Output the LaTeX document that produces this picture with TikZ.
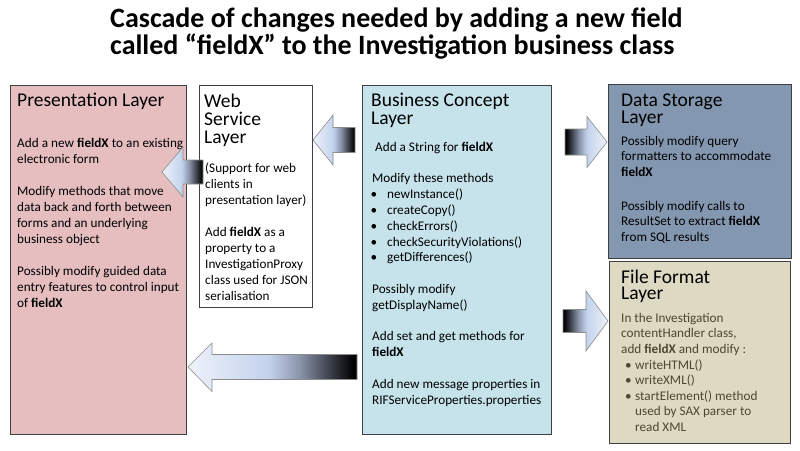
\documentclass[tikz,border=0pt]{standalone}
\usepackage{fontspec}
\setmainfont{Carlito}
\definecolor{presfill}{HTML}{E6BEBF}
\definecolor{busfill}{HTML}{C6E2EB}
\definecolor{datafill}{HTML}{8497B0}
\definecolor{filefill}{HTML}{DDD9C3}
\definecolor{filetext}{HTML}{4B4733}
\definecolor{boxline}{HTML}{404040}
\definecolor{arline}{HTML}{8C8C8C}
\definecolor{artip}{HTML}{EEF2FA}
\definecolor{armid}{HTML}{C3D2EC}
\definecolor{argray}{HTML}{8A94AA}
\definecolor{ardark}{HTML}{33363F}
\pgfdeclarehorizontalshading{blockarrow}{100bp}{color(0bp)=(artip); color(25bp)=(artip); color(49bp)=(armid); color(58bp)=(argray); color(68bp)=(ardark); color(74bp)=(black); color(100bp)=(black)}
\newcommand\bulA{\hspace*{-1.5pt}\makebox[16.5pt][l]{•}}
\newcommand\bulB{\hspace*{4pt}\makebox[10pt][l]{•}}
\newcommand\strBody{\rule{0pt}{12pt}}
\newcommand\strHead{\rule{0pt}{18pt}}
\newcommand\strBig{\rule{0pt}{24pt}}
\begin{document}
\begin{tikzpicture}[x=1pt,y=-1pt,
  layerbox/.style={draw=boxline, line width=1.1pt, inner sep=0pt, anchor=north west},
  boxtitle/.style={inner sep=0pt, anchor=north west, yshift=18pt, align=left, font=\fontsize{19.5}{18}\selectfont},
  bodytext/.style={inner sep=0pt, anchor=north west, yshift=12pt, align=left, font=\fontsize{13.2}{16}\selectfont},
  blockarr/.style={draw=arline, line width=0.6pt, shading=blockarrow}
]
\useasboundingbox (0,0) rectangle (800,450);
\fill[white] (0,0) rectangle (800,450);

% title
\node[inner sep=0pt, anchor=north west, yshift=24pt, align=left, font=\fontsize{28}{27.5}\selectfont\bfseries] (title) at (110,27)
  {\strBig Cascade of changes needed by adding a new field\\called “fieldX” to the Investigation business class};

% boxes
\node[layerbox, fill=presfill, minimum width=176pt, minimum height=349pt] (pres) at (10,85) {};
\node[layerbox, fill=white, minimum width=113pt, minimum height=222pt] (web) at (199,85) {};
\node[layerbox, fill=busfill, minimum width=189pt, minimum height=349pt] (bus) at (362,85) {};
\node[layerbox, fill=datafill, minimum width=183pt, minimum height=174pt] (data) at (608,84) {};
\node[layerbox, fill=filefill, minimum width=181pt, minimum height=182pt] (file) at (609,261) {};

% presentation layer
\node[boxtitle] (prestitle) at (17,106) {\strHead Presentation Layer};
\node[bodytext] (presbody) at (17,147) {\strBody\makebox[166pt][s]{Add a new \textbf{fieldX} to an existing}\\
electronic form\\[16pt]
Modify methods that move\\
data back and forth between\\
forms and an underlying\\
business object\\[16pt]
Possibly modify guided data\\
entry features to control input\\
of \textbf{fieldX}};

% web service layer
\node[boxtitle] (webtitle) at (204,107) {\strHead Web\\Service\\Layer};
\node[bodytext] (webbody) at (205,172.5) {\strBody (Support for web\\
clients in\\
presentation layer)\\[16pt]
Add \textbf{fieldX} as a\\
property to a\\
InvestigationProxy\\
class used for JSON\\
serialisation};

% business concept layer
\node[boxtitle] (bustitle) at (371,106) {\strHead Business Concept\\Layer};
\node[bodytext, font=\fontsize{13.2}{15.8}\selectfont] (busbody) at (372,151) {\strBody\hspace*{3pt}Add a String for \textbf{fieldX}\\[15.8pt]
Modify these methods\\
\bulA newInstance()\\
\bulA createCopy()\\
\bulA checkErrors()\\
\bulA checkSecurityViolations()\\
\bulA getDifferences()\\[15.8pt]
Possibly modify\\
getDisplayName()\\[15.8pt]
Add set and get methods for\\
\textbf{fieldX}\\[15.8pt]
Add new message properties in\\
RIFServiceProperties.properties};

% data storage layer
\node[boxtitle, font=\fontsize{19.5}{17}\selectfont] (datatitle) at (621,106) {\strHead Data Storage\\Layer};
\node[bodytext, font=\fontsize{13.2}{15.5}\selectfont] (databody) at (621,145) {\strBody Possibly modify query\\
formatters to accommodate\\
\textbf{fieldX}\\[18.5pt]
Possibly modify calls to\\
ResultSet to extract \textbf{fieldX}\\
from SQL results};

% file format layer
\node[boxtitle, font=\fontsize{19.5}{16}\selectfont] (filetitle) at (621,283) {\strHead File Format\\Layer};
\node[bodytext, text=filetext, font=\fontsize{13.2}{15.6}\selectfont] (filebody) at (621,322) {\strBody In the Investigation\\
contentHandler class,\\
add \textbf{fieldX} and modify :\\
\bulB writeHTML()\\
\bulB writeXML()\\
\bulB startElement() method\\
\hspace*{14pt}used by SAX parser to\\
\hspace*{14pt}read XML};

% block arrows
\path[blockarr] (162,172) -- (183,147) -- (183,160) -- (203,160) -- (203,184) -- (183,184) -- (183,197) -- cycle;
\path[blockarr] (313,140) -- (333,115) -- (333,127.5) -- (355,127.5) -- (355,152.5) -- (333,152.5) -- (333,165) -- cycle;
\path[blockarr] (188,367) -- (212,343) -- (212,354.5) -- (357,354.5) -- (357,379.5) -- (212,379.5) -- (212,391.5) -- cycle;
\path[blockarr, shading angle=180] (607,142) -- (587,116.5) -- (587,129) -- (565,129) -- (565,155) -- (587,155) -- (587,167.5) -- cycle;
\path[blockarr, shading angle=180] (608,321) -- (586,291) -- (586,309.5) -- (563,309.5) -- (563,332.5) -- (586,332.5) -- (586,351) -- cycle;
\end{tikzpicture}
\end{document}
